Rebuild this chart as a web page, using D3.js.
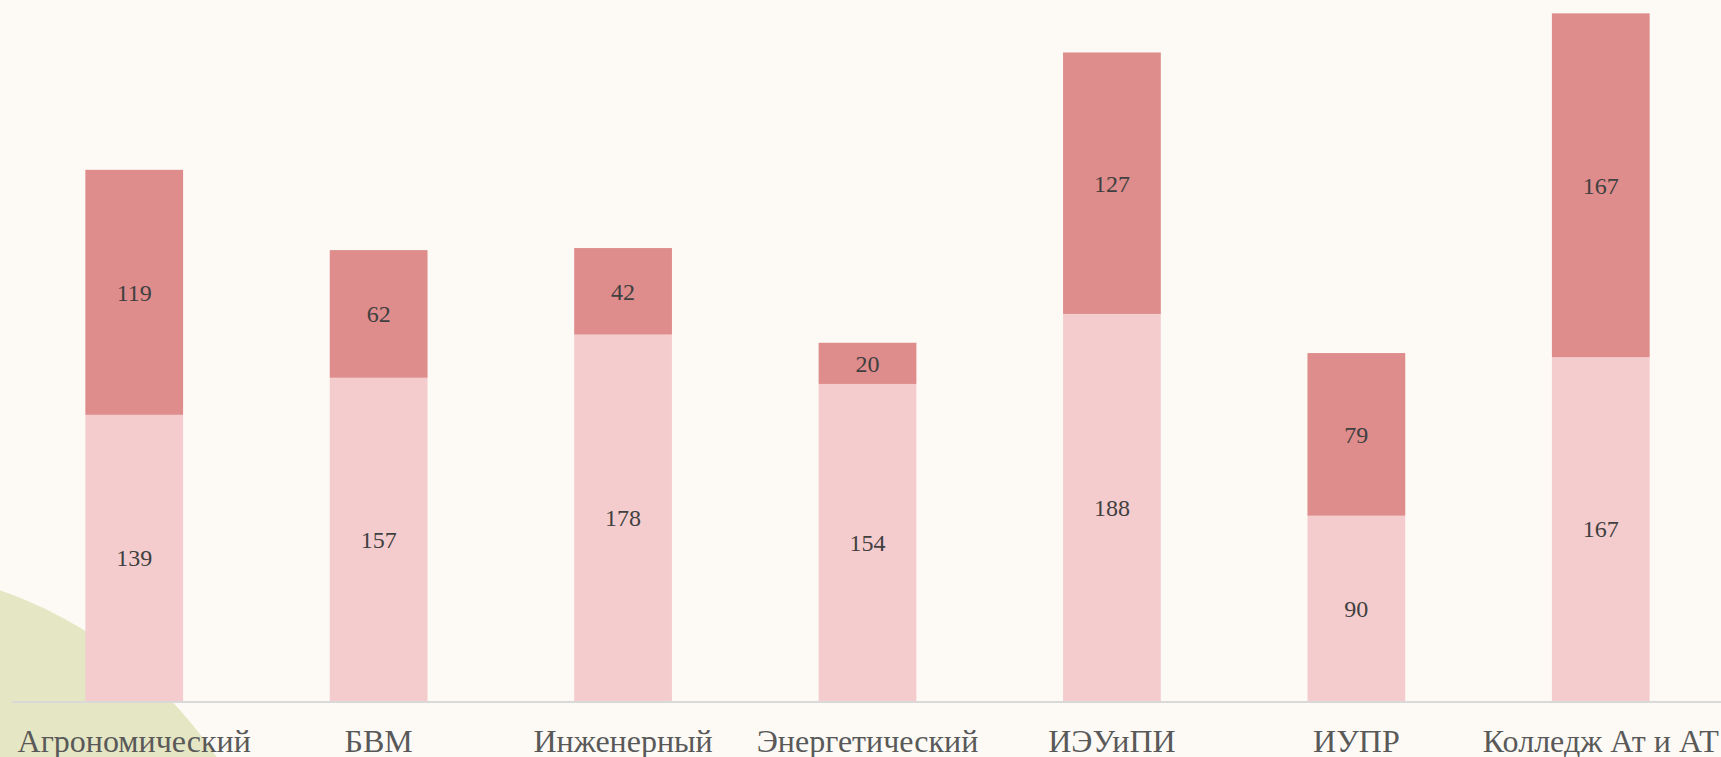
<!DOCTYPE html>
<html>
<head>
<meta charset="utf-8">
<script src="https://cdn.jsdelivr.net/npm/d3@7"></script>
<style>
  html, body { margin: 0; padding: 0; background: #FDFAF5; overflow: hidden; }
</style>
</head>
<body>
<div id="chart"></div>
<script>
const categories = ["Агрономический", "БВМ", "Инженерный", "Энергетический", "ИЭУиПИ", "ИУПР", "Колледж Ат и АТ"];
const lowerValues = [139, 157, 178, 154, 188, 90, 167];
const upperValues = [119, 62, 42, 20, 127, 79, 167];

const width = 1721, height = 757;
const baseY = 701;

const svg = d3.select("#chart").append("svg")
    .attr("width", width)
    .attr("height", height);

svg.append("rect")
    .attr("width", width)
    .attr("height", height)
    .attr("fill", "#FDFAF5");

// декоративный круг в левом нижнем углу
svg.append("circle")
    .attr("cx", -143)
    .attr("cy", 1000)
    .attr("r", 434)
    .attr("fill", "#E5E6C3");

const rows = categories.map((c, i) => ({ cat: c, lower: lowerValues[i], upper: upperValues[i] }));

const stack = d3.stack().keys(["lower", "upper"]);
const series = stack(rows);

const x = d3.scaleBand()
    .domain(categories)
    .range([12, 1723])
    .paddingInner(0.6)
    .paddingOuter(0.3);

const y = d3.scaleLinear()
    .domain([0, 340])
    .range([baseY, 1]);

const colors = { lower: "#F5CCCE", upper: "#DE8C8C" };

const groups = svg.append("g")
    .selectAll("g")
    .data(series)
    .join("g")
    .attr("fill", d => colors[d.key]);

groups.selectAll("rect")
    .data(d => d.map(v => ({ key: d.key, v })))
    .join("rect")
    .attr("x", d => x(d.v.data.cat))
    .attr("y", d => y(d.v[1]))
    .attr("width", x.bandwidth())
    .attr("height", d => y(d.v[0]) - y(d.v[1]));

groups.selectAll("text")
    .data(d => d.map(v => ({ key: d.key, v })))
    .join("text")
    .attr("x", d => x(d.v.data.cat) + x.bandwidth() / 2)
    .attr("y", d => (y(d.v[0]) + y(d.v[1])) / 2)
    .attr("dy", "0.35em")
    .attr("text-anchor", "middle")
    .attr("fill", "#404040")
    .style("font-family", "'Liberation Serif', 'Times New Roman', serif")
    .style("font-size", "24px")
    .text(d => d.v[1] - d.v[0]);

// ось X
svg.append("line")
    .attr("x1", 12)
    .attr("x2", width)
    .attr("y1", baseY + 1)
    .attr("y2", baseY + 1)
    .attr("stroke", "#D9D9D9")
    .attr("stroke-width", 2);

svg.append("g")
    .selectAll("text")
    .data(categories)
    .join("text")
    .attr("x", d => x(d) + x.bandwidth() / 2)
    .attr("y", 752)
    .attr("text-anchor", "middle")
    .attr("fill", "#595959")
    .style("font-family", "'Liberation Serif', 'Times New Roman', serif")
    .style("font-size", "32px")
    .text(d => d);
</script>
</body>
</html>
